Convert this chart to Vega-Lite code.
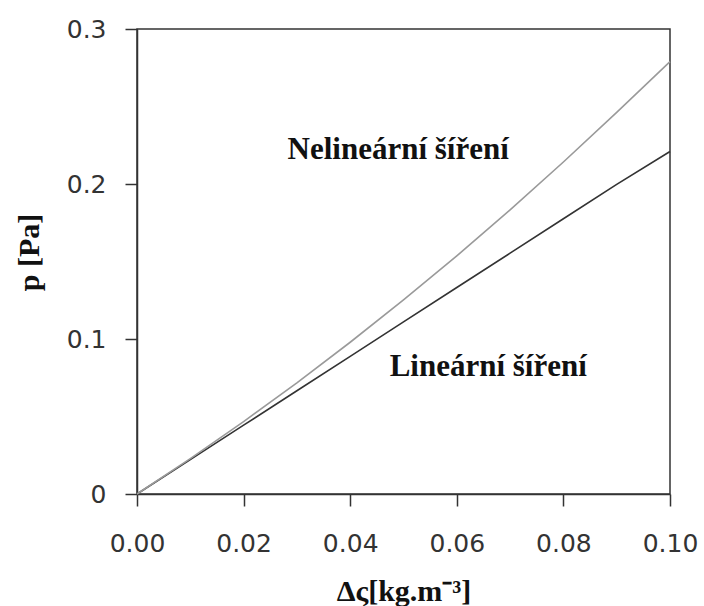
{
  "$schema": "https://vega.github.io/schema/vega-lite/v6.json",
  "autosize": "none",
  "width": 533,
  "height": 465,
  "padding": {"left": 137, "top": 29, "right": 34, "bottom": 112},
  "background": "white",
  "config": {
    "view": {"stroke": "#333", "strokeWidth": 1.5},
    "axis": {"grid": false, "labelFlush": false, "labelOverlap": false, "domainColor": "#333", "domainWidth": 1.5, "tickColor": "#333", "tickWidth": 1.5, "tickSize": 12,
      "labelFont": "DejaVu Sans", "labelFontSize": 25, "labelColor": "#333",
      "titleFont": "Liberation Serif", "titleFontSize": 30, "titleFontWeight": "bold", "titleColor": "#111"}
  },
  "datasets": {
    "curves": [
      {"x": 0.00, "p": 0.0, "s": "Lineární"},
      {"x": 0.01, "p": 0.0222, "s": "Lineární"},
      {"x": 0.02, "p": 0.0444, "s": "Lineární"},
      {"x": 0.03, "p": 0.0666, "s": "Lineární"},
      {"x": 0.04, "p": 0.0888, "s": "Lineární"},
      {"x": 0.05, "p": 0.111, "s": "Lineární"},
      {"x": 0.06, "p": 0.1332, "s": "Lineární"},
      {"x": 0.07, "p": 0.1554, "s": "Lineární"},
      {"x": 0.08, "p": 0.1776, "s": "Lineární"},
      {"x": 0.09, "p": 0.1998, "s": "Lineární"},
      {"x": 0.10, "p": 0.221, "s": "Lineární"},
      {"x": 0.00, "p": 0.0, "s": "Nelineární"},
      {"x": 0.01, "p": 0.0228, "s": "Nelineární"},
      {"x": 0.02, "p": 0.0467, "s": "Nelineární"},
      {"x": 0.03, "p": 0.0717, "s": "Nelineární"},
      {"x": 0.04, "p": 0.0979, "s": "Nelineární"},
      {"x": 0.05, "p": 0.1252, "s": "Nelineární"},
      {"x": 0.06, "p": 0.1536, "s": "Nelineární"},
      {"x": 0.07, "p": 0.1833, "s": "Nelineární"},
      {"x": 0.08, "p": 0.2142, "s": "Nelineární"},
      {"x": 0.09, "p": 0.2462, "s": "Nelineární"},
      {"x": 0.10, "p": 0.279, "s": "Nelineární"}
    ],
    "labels": [
      {"x": 0.049, "p": 0.222, "t": "Nelineární šíření"},
      {"x": 0.0659, "p": 0.082, "t": "Lineární šíření"}
    ]
  },
  "layer": [
    {
      "data": {"name": "curves"},
      "mark": {"type": "line", "strokeWidth": 1.6},
      "encoding": {
        "x": {"field": "x", "type": "quantitative", "scale": {"domain": [0, 0.1], "nice": false},
          "axis": {"values": [0, 0.02, 0.04, 0.06, 0.08, 0.1], "format": ".2f", "labelPadding": 25,
            "title": "Δς[kg.m⁻³]", "titleY": 106, "titleBaseline": "alphabetic"}},
        "y": {"field": "p", "type": "quantitative", "scale": {"domain": [0, 0.3], "nice": false},
          "axis": {"values": [0, 0.1, 0.2, 0.3], "labelExpr": "datum.value == 0 ? '0' : format(datum.value, '.1f')", "labelPadding": 19,
            "title": "p [Pa]", "titleX": -99, "titleY": 223, "titleBaseline": "alphabetic", "titleAngle": -90, "titleAlign": "center"}},
        "color": {"field": "s", "type": "nominal", "scale": {"domain": ["Lineární", "Nelineární"], "range": ["#333333", "#9a9a9a"]}, "legend": null}
      }
    },
    {
      "data": {"name": "labels"},
      "mark": {"type": "text", "font": "Liberation Serif", "fontSize": 31, "fontWeight": "bold", "color": "#111", "align": "center", "baseline": "middle"},
      "encoding": {
        "x": {"field": "x", "type": "quantitative"},
        "y": {"field": "p", "type": "quantitative"},
        "text": {"field": "t"}
      }
    }
  ]
}
